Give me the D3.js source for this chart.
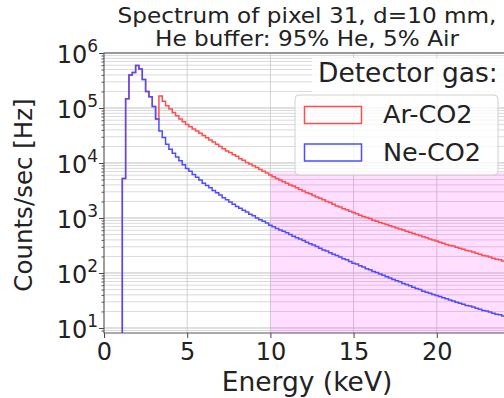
<!DOCTYPE html>
<html>
<head>
<meta charset="utf-8">
<script src="https://cdn.jsdelivr.net/npm/d3@7"></script>
<style>
body { margin: 0; background: #fff; }
svg { display: block; font-family: "DejaVu Sans", sans-serif; }
</style>
</head>
<body>
<div id="canvas"></div>
<script>
// histogram binning (keV)
var binStart = 1.1, binWidth = 0.2;

// bins 1.1 .. 3.1 keV, identical for both gases
var peakRates = [5.2e3, 1.48e5, 4.0e5, 4.4e5, 5.9e5, 5.1e5, 3.3e5, 2.0e5, 1.6e5, 1.07e5, 6.3e4];

// bins 3.3 .. 24.3 keV
var arTail = [
  1.66e5, 1.32e5, 1.10e5, 9.55e4, 8.32e4, 7.24e4, 6.31e4, 5.62e4, 5.01e4, 4.57e4,
  4.17e4, 3.80e4, 3.47e4, 3.16e4, 2.88e4, 2.63e4, 2.40e4, 2.19e4, 2.00e4, 1.82e4,
  1.66e4, 1.55e4, 1.41e4, 1.32e4, 1.20e4, 1.12e4, 1.02e4, 9.55e3, 8.91e3, 8.32e3,
  7.59e3, 7.08e3, 6.61e3, 6.03e3, 5.62e3, 5.25e3, 4.90e3, 4.57e3, 4.27e3, 3.98e3,
  3.80e3, 3.55e3, 3.31e3, 3.09e3, 2.88e3, 2.75e3, 2.57e3, 2.40e3, 2.29e3, 2.14e3,
  2.00e3, 1.91e3, 1.78e3, 1.66e3, 1.58e3, 1.48e3, 1.41e3, 1.32e3, 1.26e3, 1.20e3,
  1.12e3, 1.07e3, 1.02e3, 977, 912, 871, 832, 794, 759, 724,
  692, 661, 631, 603, 575, 550, 525, 501, 479, 457,
  437, 417, 398, 380, 363, 347, 331, 316, 309, 295,
  282, 269, 257, 251, 240, 229, 219, 209, 204, 195,
  186, 178, 174, 166, 158, 155
];
var neTail = [
  3.8e4, 2.9e4, 2.2e4, 1.78e4, 1.51e4, 1.29e4, 1.10e4, 9.3e3, 7.94e3, 7.08e3,
  6.17e3, 5.50e3, 4.90e3, 4.27e3, 3.89e3, 3.55e3, 3.16e3, 2.88e3, 2.63e3, 2.34e3,
  2.14e3, 1.95e3, 1.78e3, 1.62e3, 1.51e3, 1.38e3, 1.29e3, 1.17e3, 1.10e3, 1.00e3,
  933, 871, 813, 741, 692, 646, 603, 575, 537, 501,
  468, 437, 417, 389, 363, 339, 324, 302, 282, 263,
  251, 234, 219, 209, 195, 182, 174, 162, 151, 145,
  135, 129, 120, 115, 107, 102, 95.5, 91.2, 85.1, 81.3,
  75.9, 72.4, 69.2, 64.6, 61.7, 58.9, 55.0, 52.5, 50.1, 46.8,
  44.7, 42.7, 40.7, 38.9, 37.2, 35.5, 33.9, 32.4, 30.9, 29.5,
  28.2, 26.9, 25.7, 25.1, 24.0, 22.9, 21.9, 20.9, 20.4, 19.5,
  18.6, 17.8, 17.4, 16.6, 15.8, 15.5
];

var seriesNames = ['Ar-CO2', 'Ne-CO2'];
var seriesColors = ['#ff4d4d', '#4d4dff'];
var xTicks = [0, 5, 10, 15, 20];
var yExponents = [1, 2, 3, 4, 5, 6];
var bandFrom = 10, bandRateTop = 6.7e3;   // shaded energy window

var W = 504, H = 398;
var m = {t: 53, r: -6, b: 65, l: 104};
var w = W - m.l - m.r,
    h = H - m.t - m.b;

var svg = d3.select('#canvas').append('svg')
    .attr('width', W).attr('height', H);

var plot = svg.append('g')
    .attr('transform', 'translate(' + m.l + ',' + m.t + ')');

var scaleX = d3.scaleLinear().domain([0, 24.4]).range([0, w]);
var scaleY = d3.scaleLog().domain([8.11, 1e6]).range([h, 0]);

plot.append('clipPath').attr('id', 'clip')
    .append('rect').attr('width', w).attr('height', h);

// grid: minor then major horizontal, plus vertical at x ticks
var minorVals = [], majorVals = [];
[0, 1, 2, 3, 4, 5].forEach(function(e){
    d3.range(2, 10).forEach(function(k){
        var v = k * Math.pow(10, e);
        if (v > scaleY.domain()[0] && v < 1e6) minorVals.push(v);
    });
});
yExponents.forEach(function(e){ majorVals.push(Math.pow(10, e)); });

var grid = plot.append('g');
grid.selectAll('.gm').data(minorVals).enter().append('line')
    .attr('x1', 0).attr('x2', w)
    .attr('y1', d => scaleY(d)).attr('y2', d => scaleY(d))
    .attr('stroke', '#d6d6d6').attr('stroke-width', 0.9);
grid.selectAll('.gM').data(majorVals).enter().append('line')
    .attr('x1', 0).attr('x2', w)
    .attr('y1', d => scaleY(d)).attr('y2', d => scaleY(d))
    .attr('stroke', '#b8b8b8').attr('stroke-width', 0.9);
grid.selectAll('.gx').data(xTicks).enter().append('line')
    .attr('x1', d => scaleX(d)).attr('x2', d => scaleX(d))
    .attr('y1', 0).attr('y2', h)
    .attr('stroke', '#cccccc').attr('stroke-width', 0.9);

// shaded window
plot.append('rect')
    .attr('x', scaleX(bandFrom)).attr('y', scaleY(bandRateTop))
    .attr('width', w - scaleX(bandFrom)).attr('height', h - scaleY(bandRateTop))
    .attr('fill', 'magenta').attr('fill-opacity', 0.13);

// step histograms
function stepPoints(rates){
    var pts = [[binStart, scaleY.domain()[0]]];
    rates.forEach(function(r, i){ pts.push([binStart + i * binWidth, r]); });
    pts.push([binStart + rates.length * binWidth, rates[rates.length - 1]]);
    return pts;
}
var line = d3.line()
    .x(d => scaleX(d[0]))
    .y(d => scaleY(d[1]))
    .curve(d3.curveStepAfter);

var series = [peakRates.concat(arTail), peakRates.concat(neTail)];
plot.append('g').attr('clip-path', 'url(#clip)')
    .selectAll('path').data(series).enter().append('path')
    .attr('d', d => line(stepPoints(d)))
    .attr('fill', 'none')
    .attr('stroke', (d, i) => seriesColors[i])
    .attr('stroke-width', 1.5);

// axes
var axisX = d3.axisBottom(scaleX).tickValues(xTicks).tickSize(5).tickPadding(5);
var gx = plot.append('g').attr('transform', 'translate(0,' + h + ')').call(axisX);
gx.select('.domain').remove();
gx.selectAll('text').attr('font-size', 24).attr('fill', '#222')
    .attr('font-family', '"DejaVu Sans", sans-serif');
gx.selectAll('line').attr('stroke', '#444');

var axisY = d3.axisLeft(scaleY).tickValues(majorVals).tickSize(5).tickFormat('');
var gy = plot.append('g').call(axisY);
gy.select('.domain').remove();
gy.selectAll('line').attr('stroke', '#444');

var axisYMinor = d3.axisLeft(scaleY).tickValues(minorVals).tickSize(2.5).tickFormat('');
var gym = plot.append('g').call(axisYMinor);
gym.select('.domain').remove();
gym.selectAll('line').attr('stroke', '#555');

var ylab = plot.append('g').selectAll('text').data(yExponents).enter().append('text')
    .attr('x', -6).attr('y', d => scaleY(Math.pow(10, d)) + 10)
    .attr('text-anchor', 'end').attr('fill', '#222');
ylab.append('tspan').attr('font-size', 24).text('10');
ylab.append('tspan').attr('font-size', 17).attr('dy', -11).text(d => d);

// frame
plot.append('rect').attr('width', w).attr('height', h)
    .attr('fill', 'none').attr('stroke', '#555').attr('stroke-width', 1);

// axis titles
svg.append('text')
    .attr('transform', 'translate(' + (m.l + w / 2) + ',391)')
    .attr('text-anchor', 'middle').attr('font-size', 26.5).attr('fill', '#222')
    .text('Energy (keV)');
svg.append('text')
    .attr('transform', 'translate(32,195) rotate(-90)')
    .attr('text-anchor', 'middle').attr('font-size', 24.5).attr('fill', '#222')
    .text('Counts/sec [Hz]');

// title
var titleLines = ['Spectrum of pixel 31, d=10 mm,', 'He buffer: 95% He, 5% Air'];
svg.selectAll('.title').data(titleLines).enter().append('text')
    .attr('transform', (d, i) => 'translate(' + (m.l + w / 2) + ',' + (23 + i * 23) + ') scale(1.13,1)')
    .attr('text-anchor', 'middle').attr('font-size', 20.5).attr('fill', '#222')
    .text(d => d);

// legend
svg.append('rect')
    .attr('x', 312).attr('y', 58).attr('width', 200).attr('height', 36)
    .attr('fill', '#fff').attr('fill-opacity', 0.85);
svg.append('text')
    .attr('x', 318).attr('y', 82).attr('font-size', 26.5).attr('fill', '#222')
    .text('Detector gas:');

var leg = svg.append('g').attr('transform', 'translate(295,95)');
leg.append('rect').attr('width', 203).attr('height', 80).attr('rx', 4)
    .attr('fill', '#fff').attr('fill-opacity', 0.8)
    .attr('stroke', '#d0d0d0');
var item = leg.selectAll('.item').data(seriesNames).enter().append('g')
    .attr('transform', (d, i) => 'translate(0,' + (i * 37.5) + ')');
item.append('rect').attr('x', 9.5).attr('y', 11.5).attr('width', 57).attr('height', 17)
    .attr('fill', 'none').attr('stroke', (d, i) => seriesColors[i]).attr('stroke-width', 1.5);
item.append('text').attr('x', 88).attr('y', 28).attr('font-size', 25.5).attr('fill', '#222')
    .text(d => d);
</script>
</body>
</html>
